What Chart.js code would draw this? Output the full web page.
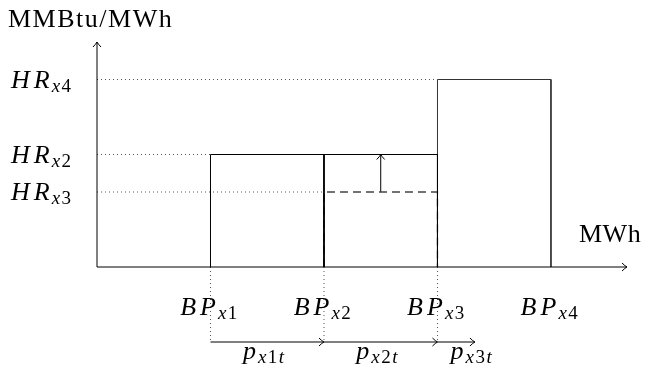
<!DOCTYPE html>
<html>
<head>
<meta charset="utf-8">
<script src="https://cdn.jsdelivr.net/npm/chart.js@4.4.0/dist/chart.umd.min.js"></script>
<style>
  html, body { margin: 0; padding: 0; background: #fff; }
  #wrap { width: 655px; height: 370px; position: relative; }
</style>
</head>
<body>
<div id="wrap"><canvas id="hrChart"></canvas></div>
<script>
// breakpoints on the MWh axis (BP_x1 .. BP_x4)
const breakpoints = [1, 2, 3, 4];
const bpSubs = ['x1', 'x2', 'x3', 'x4'];
// block heights between consecutive breakpoints
const blockHeights = [3, 3, 5];
// heat-rate levels shown on the vertical axis
const hrLevels = [5, 3, 2];
const hrSubs = ['x4', 'x2', 'x3'];
const hrGuideEnds = [3, 1, 2];
// original (dashed) height of the second block
const oldHeight = 2;
// quantity segments under the axis
const pStarts = [1, 2, 3];
const pEnds = [2, 3, 3.33];
const pSubs = ['x1t', 'x2t', 'x3t'];
const pLevel = -2;
const xMax = 4.67, yMax = 6;

const ink = '#000';
const datasets = [];

function seg(points, opts) {
  datasets.push(Object.assign({
    data: points.map(p => ({ x: p[0], y: p[1] })),
    borderColor: ink,
    borderWidth: 1,
    pointRadius: 0,
    fill: false,
    tension: 0,
    clip: false
  }, opts || {}));
}

// axes
seg([[0, 0], [0, yMax]]);
seg([[0, 0], [xMax, 0]]);

// dotted guides from the vertical axis
hrLevels.forEach((h, i) => {
  seg([[0, h], [hrGuideEnds[i], h]], { borderColor: '#555', borderDash: [1, 3] });
});

// dotted drops below the axis
pStarts.forEach(b => {
  seg([[b, 0], [b, pLevel]], { borderColor: '#555', borderDash: [1, 3] });
});

// blocks
blockHeights.forEach((h, i) => {
  const a = breakpoints[i], b = breakpoints[i + 1];
  seg([[a, 0], [a, h], [b, h], [b, 0]], { borderColor: i === 2 ? '#333' : ink });
});

// old (dashed) block
seg([[breakpoints[1], 0], [breakpoints[1], oldHeight], [breakpoints[2], oldHeight], [breakpoints[2], 0]],
  { borderColor: '#444', borderDash: [8, 5], borderWidth: 1.3 });

// shift arrow
const shiftX = (breakpoints[1] + breakpoints[2]) / 2;
seg([[shiftX, oldHeight], [shiftX, blockHeights[1]]]);

// quantity arrows
pStarts.forEach((s, i) => seg([[s, pLevel], [pEnds[i], pLevel]]));

function head(ctx, x, y, dir) {
  ctx.save();
  ctx.strokeStyle = ink;
  ctx.lineWidth = 1;
  ctx.beginPath();
  if (dir === 'right') {
    ctx.moveTo(x - 5, y - 4); ctx.quadraticCurveTo(x - 2, y - 1, x, y); ctx.quadraticCurveTo(x - 2, y + 1, x - 5, y + 4);
  } else {
    ctx.moveTo(x - 4, y + 5); ctx.quadraticCurveTo(x - 1, y + 2, x, y); ctx.quadraticCurveTo(x + 1, y + 2, x + 4, y + 5);
  }
  ctx.stroke();
  ctx.restore();
}

// math label: italic main part, subscript with italic letters and upright digits
function mathLabel(ctx, main, sub, x, y, align, size) {
  const fMain = 'italic ' + size + 'px "Liberation Serif"';
  const sSize = Math.round(size * 0.72);
  ctx.font = fMain;
  ctx.letterSpacing = '4px';
  const wMain = ctx.measureText(main).width;
  ctx.letterSpacing = '0px';
  const parts = sub.split('').map(c => ({
    c, font: (/[0-9]/.test(c) ? '' : 'italic ') + sSize + 'px "Liberation Serif"'
  }));
  let wSub = 0;
  parts.forEach(p => { ctx.font = p.font; p.w = ctx.measureText(p.c).width + 1.5; wSub += p.w; });
  const total = wMain + wSub;
  let x0 = align === 'center' ? x - total / 2 : align === 'right' ? x - total : x;
  ctx.fillStyle = ink;
  ctx.textBaseline = 'alphabetic';
  ctx.textAlign = 'left';
  ctx.font = fMain;
  ctx.letterSpacing = '4px';
  ctx.fillText(main, x0, y);
  ctx.letterSpacing = '0px';
  let cx = x0 + wMain - 2;
  parts.forEach(p => { ctx.font = p.font; ctx.fillText(p.c, cx, y + 4); cx += p.w; });
}

const decor = {
  id: 'decor',
  afterDatasetsDraw(chart) {
    const ctx = chart.ctx;
    const xs = chart.scales.x, ys = chart.scales.y;
    const X = v => xs.getPixelForValue(v), Y = v => ys.getPixelForValue(v);

    head(ctx, X(0), Y(yMax), 'up');
    head(ctx, X(xMax), Y(0), 'right');
    head(ctx, X(shiftX), Y(blockHeights[1]), 'up');
    pEnds.forEach(e => head(ctx, X(e), Y(pLevel), 'right'));

    ctx.save();
    ctx.fillStyle = ink;
    ctx.font = '26px "Liberation Serif"';
    ctx.textAlign = 'left';
    ctx.textBaseline = 'alphabetic';
    ctx.letterSpacing = '1.5px';
    ctx.fillText('MMBtu/MWh', 8, 27);
    ctx.letterSpacing = '0.5px';
    ctx.fillText('MWh', 579, 242);
    ctx.letterSpacing = '0px';

    hrLevels.forEach((h, i) => mathLabel(ctx, 'HR', hrSubs[i], 11, Y(h) + 8, 'left', 26));
    breakpoints.forEach((b, i) => mathLabel(ctx, 'BP', bpSubs[i], X(b), Y(0) + 48, 'center', 26));
    pStarts.forEach((s, i) => {
      const mid = i < 2 ? (s + pEnds[i]) / 2 : pEnds[i];
      mathLabel(ctx, 'p', pSubs[i], X(mid) - 2, Y(pLevel) + 17, 'center', 26);
    });
    ctx.restore();
  }
};

new Chart(document.getElementById('hrChart'), {
  type: 'line',
  data: { datasets },
  options: {
    responsive: true,
    maintainAspectRatio: false,
    animation: false,
    layout: { padding: { left: 97, right: 28, top: 42, bottom: 103 } },
    scales: {
      x: { type: 'linear', min: 0, max: xMax, display: false },
      y: { type: 'linear', min: 0, max: yMax, display: false }
    },
    plugins: { legend: { display: false }, tooltip: { enabled: false } }
  },
  plugins: [decor]
});
</script>
</body>
</html>
